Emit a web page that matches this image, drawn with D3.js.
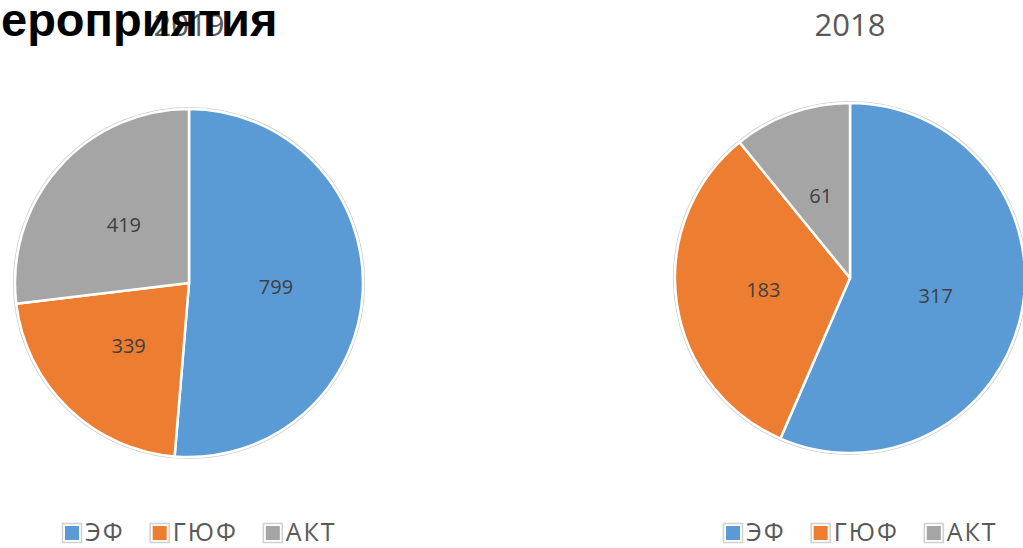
<!DOCTYPE html>
<html lang="ru">
  <head>
    <meta charset="UTF-8" />
    <title>Мероприятия</title>
    <script src="https://d3js.org/d3.v7.min.js"></script>
    <style>
      html, body { margin: 0; padding: 0; background: #fff; overflow: hidden; }
      svg { display: block; font-family: "Open Sans", "Noto Sans", sans-serif; }
    </style>
  </head>
  <body>
    <div id="chart"></div>
    <script>
      // data
      const categories = ["ЭФ", "ГЮФ", "АКТ"];
      const values2019 = [799, 339, 419];
      const values2018 = [317, 183, 61];
      const years = ["2019", "2018"];
      const colors = ["#5B9BD5", "#ED7D31", "#A5A5A5"];

      const W = 1023, H = 548;
      const svg = d3.select("#chart").append("svg")
        .attr("width", W).attr("height", H);

      const color = d3.scaleOrdinal().domain(categories).range(colors);
      const pie = d3.pie().sort(null).value(d => d.value);

      function drawPie(year, values, cx, cy, r, legendX) {
        const data = categories.map((c, i) => ({ cat: c, value: values[i] }));
        const g = svg.append("g").attr("transform", `translate(${cx},${cy})`);
        const arc = d3.arc().innerRadius(0).outerRadius(r);

        // thin grey rim
        g.append("circle").attr("r", r + 1.5)
          .attr("fill", "none").attr("stroke", "#cfcfcf").attr("stroke-width", 1.2);

        g.selectAll("path.slice")
          .data(pie(data))
          .enter()
          .append("path")
          .attr("class", "slice")
          .attr("d", arc)
          .attr("fill", d => color(d.data.cat))
          .attr("stroke", "#fff")
          .attr("stroke-width", 2.5)
          .attr("stroke-linejoin", "round");

        g.selectAll("text.lbl")
          .data(pie(data))
          .enter()
          .append("text")
          .attr("class", "lbl")
          .attr("transform", d => `translate(${arc.centroid(d)})`)
          .attr("text-anchor", "middle")
          .attr("dy", "0.35em")
          .attr("font-size", 20)
          .attr("fill", "#404040")
          .text(d => d.data.value);

        // title
        svg.append("text")
          .attr("x", cx).attr("y", 36)
          .attr("text-anchor", "middle")
          .attr("font-size", 31)
          .attr("fill", "#595959")
          .text(year);

        // legend
        let x = legendX;
        const ly = 532;
        categories.forEach((c, i) => {
          svg.append("rect")
            .attr("x", x + 0.5).attr("y", ly - 8.5)
            .attr("width", 19).attr("height", 19)
            .attr("fill", "#fff").attr("stroke", "#d0d0d0").attr("stroke-width", 1.5);
          svg.append("rect")
            .attr("x", x + 3).attr("y", ly - 6)
            .attr("width", 14).attr("height", 14)
            .attr("fill", color(c));
          const t = svg.append("text")
            .attr("x", x + 23).attr("y", ly)
            .attr("dy", "0.35em")
            .attr("font-size", 25)
            .attr("letter-spacing", 2)
            .attr("fill", "#595959")
            .text(c);
          x += 23 + t.node().getComputedTextLength() + 25;
        });
      }

      drawPie(years[0], values2019, 189, 283, 174, 62);
      drawPie(years[1], values2018, 850, 278, 175, 723);

      // slide heading, cut off at the left edge
      svg.append("text")
        .attr("x", 1).attr("y", 36)
        .attr("font-family", "'Liberation Sans', Arial, sans-serif")
        .attr("font-weight", "bold")
        .attr("font-size", 47)
        .attr("fill", "#000")
        .text("ероприятия");
    </script>
  </body>
</html>
